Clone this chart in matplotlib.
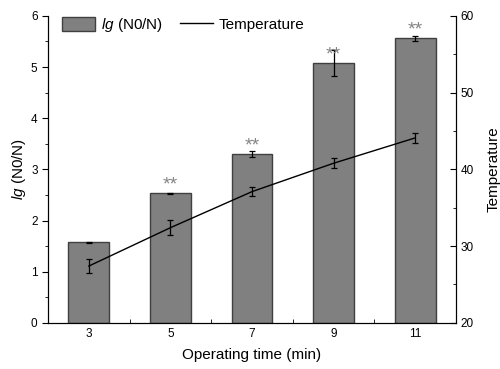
import matplotlib
matplotlib.use("Agg")
import matplotlib.pyplot as plt
from matplotlib.ticker import MultipleLocator
from matplotlib.lines import Line2D

plt.rcParams['font.family'] = ['Liberation Sans', 'DejaVu Sans']
plt.rcParams['mathtext.fontset'] = 'custom'
plt.rcParams['mathtext.it'] = 'Liberation Sans:italic'
plt.rcParams['mathtext.rm'] = 'Liberation Sans'

# data
times = [3, 5, 7, 9, 11]
lg_vals = [1.58, 2.53, 3.30, 5.08, 5.56]
lg_err = [0.01, 0.01, 0.06, 0.25, 0.045]
temp_vals = [27.4, 32.4, 37.1, 40.8, 44.1]
temp_err = [0.9, 1.0, 0.55, 0.65, 0.65]
stars = ['', '**', '**', '**', '**']

fig = plt.figure(figsize=(5.0, 3.69), dpi=100)
ax = fig.add_axes([0.096, 0.125, 0.816, 0.832])

ax.bar(times, lg_vals, width=1.0, color='#808080', edgecolor='#404040',
       linewidth=1.0, label=r'$\it{lg}$ (N0/N)', zorder=2)
ax.errorbar(times, lg_vals, yerr=lg_err, fmt='none', ecolor='black',
            elinewidth=0.9, capsize=2, capthick=0.9, zorder=3)
for t, v, s in zip(times, lg_vals, stars):
    if s:
        ax.text(t, v + 0.07, s, ha='center', va='baseline', color='#858585', fontsize=14)

ax.set_xlim(2, 12)
ax.set_ylim(0, 6)
ax.set_xticks(times)
ax.xaxis.set_minor_locator(MultipleLocator(1))
ax.yaxis.set_minor_locator(MultipleLocator(0.5))
ax.tick_params(axis='x', which='both', direction='in', labelsize=8.5)
ax.tick_params(axis='x', which='major', length=4)
ax.tick_params(axis='x', which='minor', length=3)
ax.tick_params(axis='y', which='major', direction='out', length=4, labelsize=8.5)
ax.tick_params(axis='y', which='minor', direction='out', length=2.5)
ax.spines['top'].set_visible(False)
ax.set_xlabel('Operating time (min)', fontsize=11, labelpad=6)
ax.set_ylabel(r'$\it{lg}$ (N0/N)', fontsize=11, labelpad=2)

ax2 = ax.twinx()
ax2.errorbar(times, temp_vals, yerr=temp_err, color='black', lw=1.0,
             elinewidth=0.9, capsize=2, capthick=0.9, label='Temperature')
ax2.set_ylim(20, 60)
ax2.yaxis.set_major_locator(MultipleLocator(10))
ax2.yaxis.set_minor_locator(MultipleLocator(5))
ax2.tick_params(axis='y', which='major', direction='in', length=4, labelsize=8.5)
ax2.tick_params(axis='y', which='minor', direction='in', length=2.5)
ax2.spines['top'].set_visible(False)
ax2.set_ylabel('Temperature', fontsize=11, labelpad=9)

h1, l1 = ax.get_legend_handles_labels()
h2 = [Line2D([], [], color='black', lw=1.0)]
ax.legend(h1 + h2, l1 + ['Temperature'], loc='upper left', ncol=2, frameon=False,
          fontsize=11, handlelength=2.15, handleheight=1.05, columnspacing=1.1,
          handletextpad=0.4, borderaxespad=0.3, bbox_to_anchor=(0.008, 1.035))

fig.savefig('out.png', dpi=100)
